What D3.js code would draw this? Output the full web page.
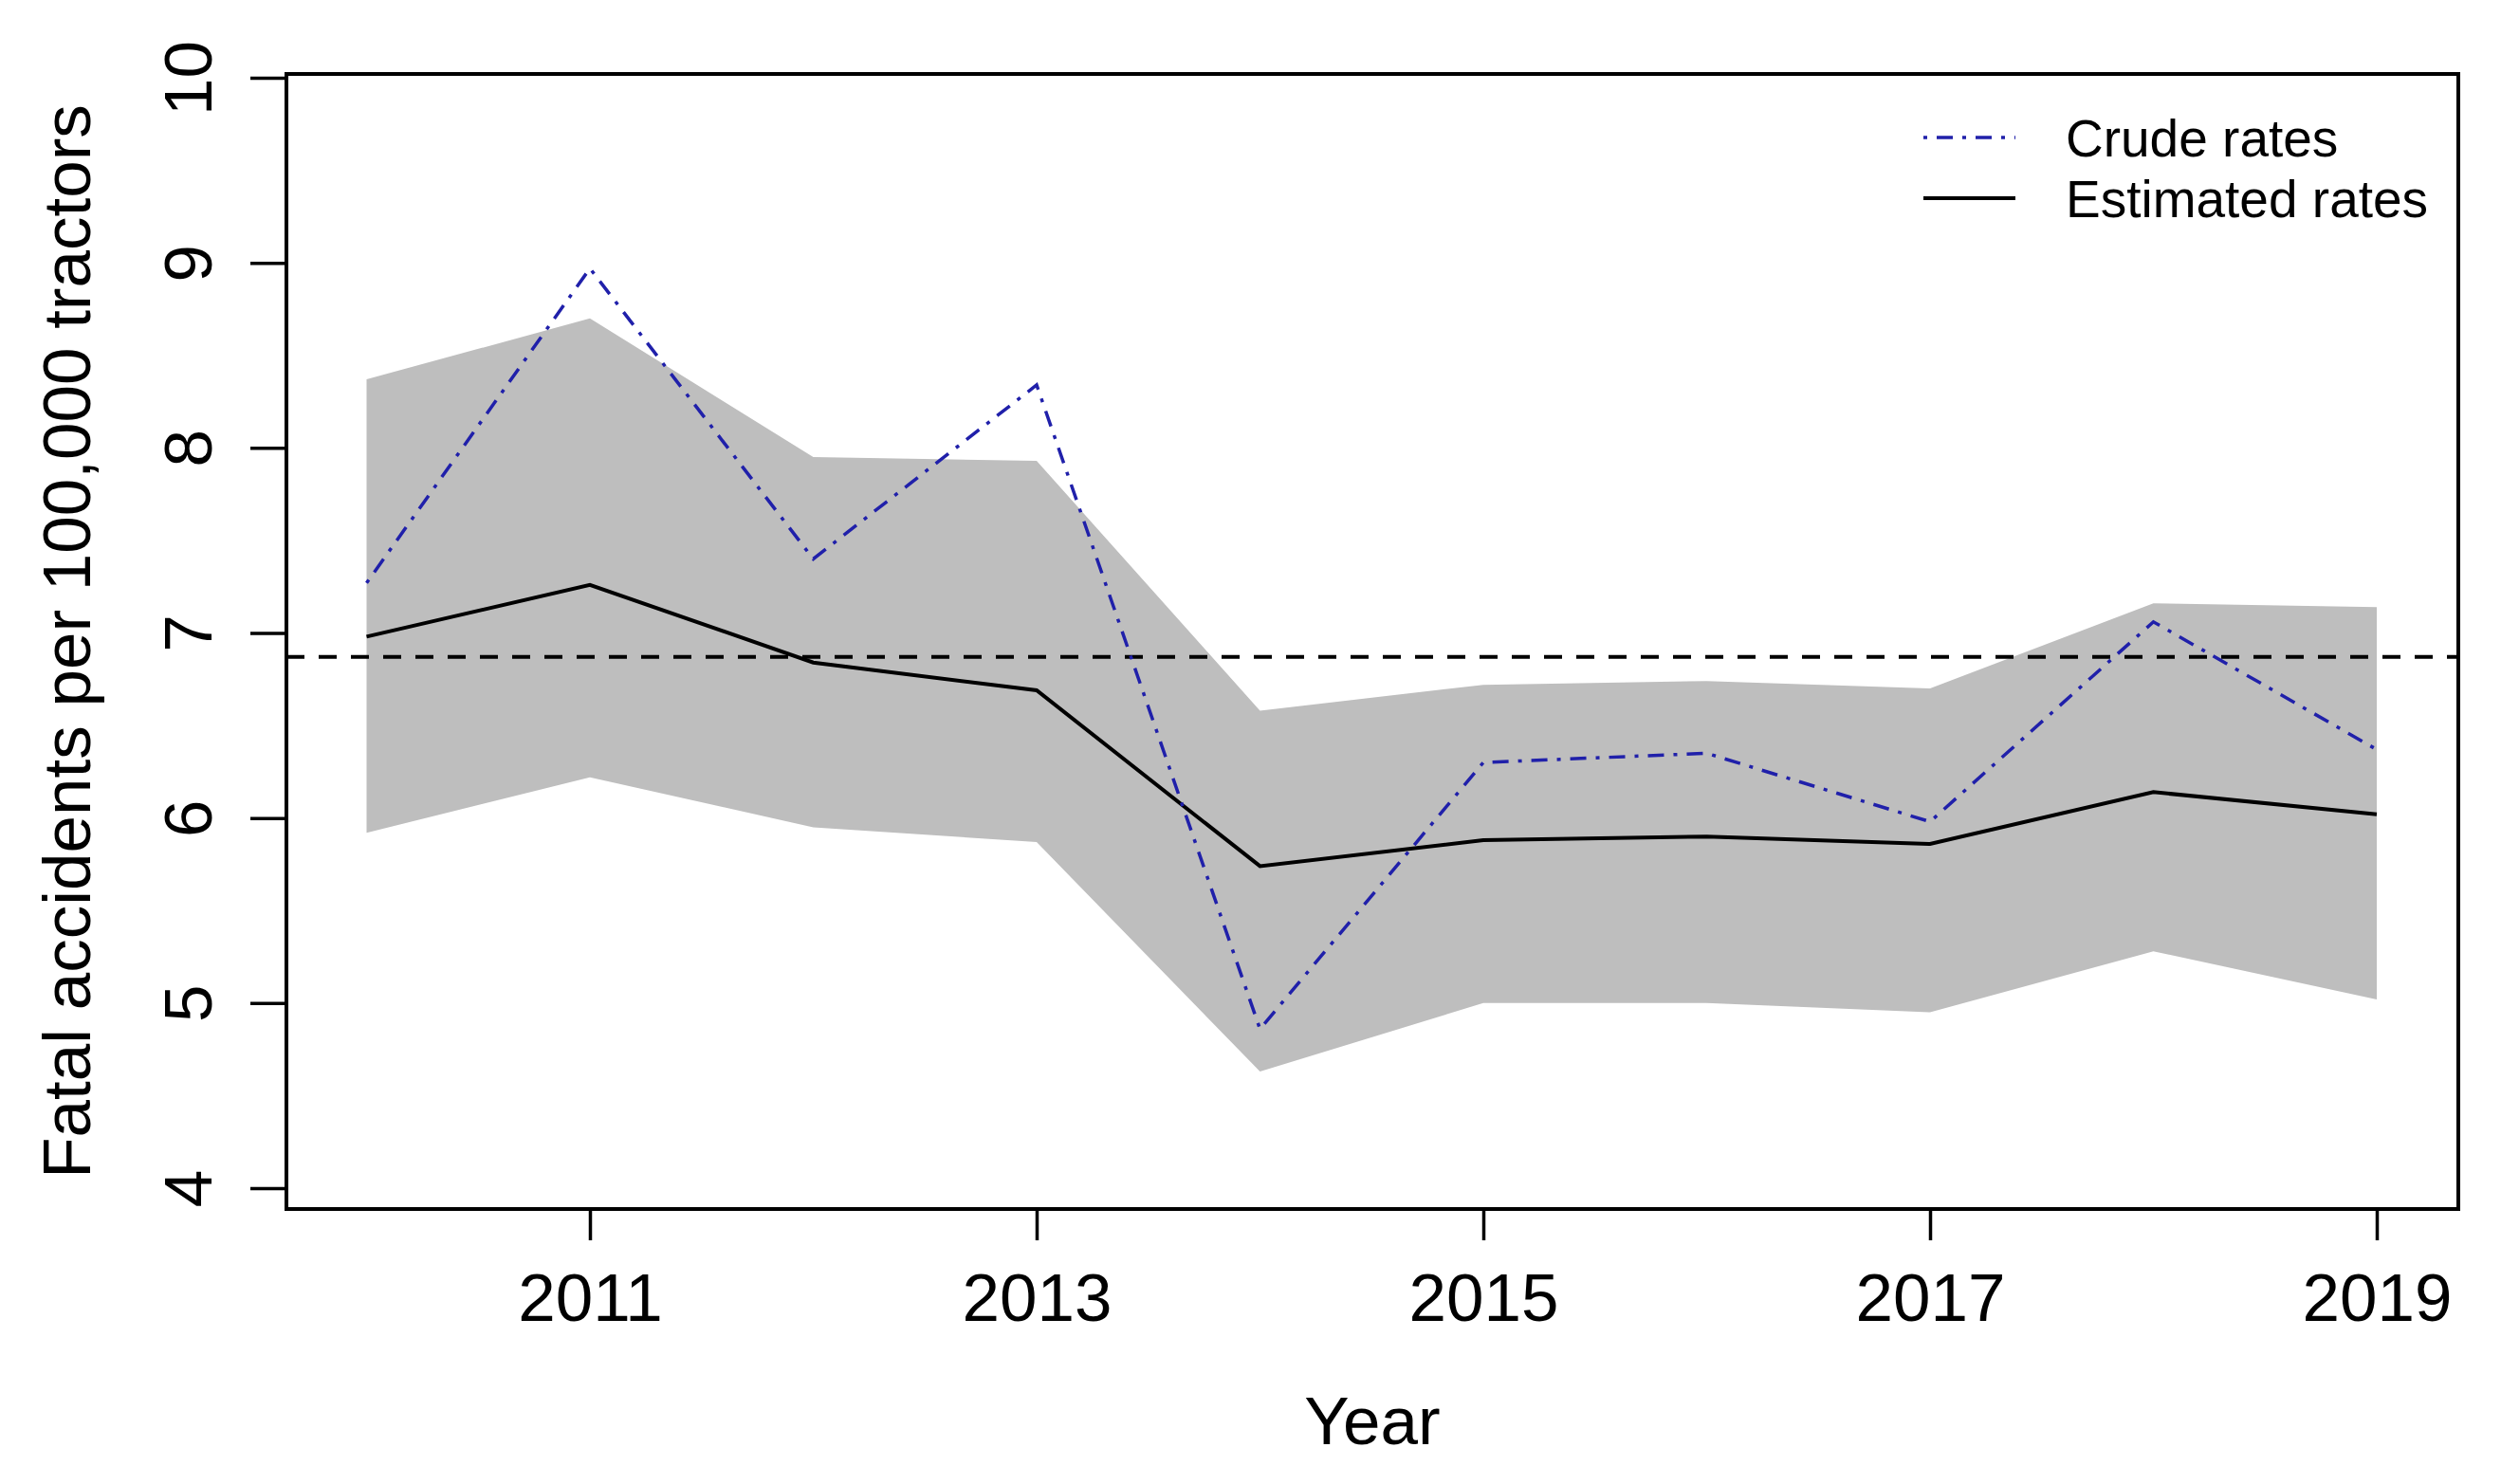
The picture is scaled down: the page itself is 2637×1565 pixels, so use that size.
<!DOCTYPE html>
<html>
<head>
<meta charset="utf-8">
<script src="https://cdn.jsdelivr.net/npm/d3@7"></script>
<style>
  body { margin: 0; background: #fff; }
  text { font-family: "Liberation Sans", Arial, sans-serif; fill: #000; }
</style>
</head>
<body>
<div id="chart"></div>
<script>
// values
var years = [2010, 2011, 2012, 2013, 2014, 2015, 2016, 2017, 2018, 2019];
var crude = [7.27, 8.97, 7.40, 8.34, 4.86, 6.30, 6.35, 5.98, 7.06, 6.37];
var estimated = [6.98, 7.26, 6.84, 6.69, 5.74, 5.88, 5.90, 5.86, 6.14, 6.02];
var upper = [8.37, 8.70, 7.95, 7.93, 6.58, 6.72, 6.74, 6.70, 7.16, 7.14];
var lower = [5.92, 6.22, 5.95, 5.87, 4.63, 5.00, 5.00, 4.95, 5.28, 5.02];
var overall = 6.87;
var xTicks = [2011, 2013, 2015, 2017, 2019];
var yTicks = [4, 5, 6, 7, 8, 9, 10];
var legendLabels = ["Crude rates", "Estimated rates"];

var width = 2637;
var height = 1565;

// plot box (R style, axes extended past the data)
var box = { left: 302, right: 2592, top: 78, bottom: 1275 };

var svg = d3.select("#chart")
            .append("svg")
            .attr("width", width)
            .attr("height", height);

svg.append("rect")
   .attr("width", width)
   .attr("height", height)
   .attr("fill", "#fff");

var x = d3.scaleLinear().domain([2011, 2019]).range([622, 2506]);
var y = d3.scaleLinear().domain([4, 10]).range([1253, 82]);

var rows = years.map(function(yr, i) {
  return { year: yr, crude: crude[i], est: estimated[i], lo: lower[i], hi: upper[i] };
});

// confidence band
var band = d3.area()
             .x(function(d) { return x(d.year); })
             .y0(function(d) { return y(d.lo); })
             .y1(function(d) { return y(d.hi); });

svg.append("path")
   .datum(rows)
   .attr("d", band)
   .attr("fill", "#bebebe");

// reference line
svg.append("line")
   .attr("x1", box.left)
   .attr("x2", box.right)
   .attr("y1", y(overall))
   .attr("y2", y(overall))
   .attr("stroke", "#000")
   .attr("stroke-width", 4)
   .attr("stroke-dasharray", "19,15");

var estLine = d3.line()
                .x(function(d) { return x(d.year); })
                .y(function(d) { return y(d.est); });

var crudeLine = d3.line()
                  .x(function(d) { return x(d.year); })
                  .y(function(d) { return y(d.crude); });

svg.append("path")
   .datum(rows)
   .attr("d", estLine)
   .attr("fill", "none")
   .attr("stroke", "#000")
   .attr("stroke-width", 4);

svg.append("path")
   .datum(rows)
   .attr("d", crudeLine)
   .attr("fill", "none")
   .attr("stroke", "#2020aa")
   .attr("stroke-width", 3.5)
   .attr("stroke-dasharray", "4,10,17,10");

// box
svg.append("rect")
   .attr("x", box.left)
   .attr("y", box.top)
   .attr("width", box.right - box.left)
   .attr("height", box.bottom - box.top)
   .attr("fill", "none")
   .attr("stroke", "#000")
   .attr("stroke-width", 4);

// axes
var xAxis = svg.append("g")
               .attr("transform", "translate(0," + box.bottom + ")")
               .call(d3.axisBottom(x).tickValues(xTicks).tickSize(33).tickFormat(d3.format("d")));

xAxis.select(".domain").remove();
xAxis.selectAll("line").attr("stroke", "#000").attr("stroke-width", 3.5);
xAxis.selectAll("text")
     .attr("y", 118)
     .attr("dy", null)
     .attr("font-size", 71)
     .attr("font-family", "Liberation Sans, Arial, sans-serif");

var yAxis = svg.append("g")
               .attr("transform", "translate(" + box.left + ",0)")
               .call(d3.axisLeft(y).tickValues(yTicks).tickSize(38).tickFormat(d3.format("d")));

yAxis.select(".domain").remove();
yAxis.selectAll("line").attr("stroke", "#000").attr("stroke-width", 3.5);
yAxis.selectAll("text")
     .attr("x", null)
     .attr("dy", null)
     .attr("transform", "translate(-79,0) rotate(-90)")
     .attr("text-anchor", "middle")
     .attr("font-size", 71)
     .attr("font-family", "Liberation Sans, Arial, sans-serif");

// axis titles
svg.append("text")
   .attr("x", (box.left + box.right) / 2)
   .attr("y", 1523)
   .attr("text-anchor", "middle")
   .attr("font-size", 71)
   .text("Year");

svg.append("text")
   .attr("transform", "translate(95," + (box.top + box.bottom) / 2 + ") rotate(-90)")
   .attr("text-anchor", "middle")
   .attr("font-size", 71)
   .text("Fatal accidents per 100,000 tractors");

// legend
var legend = svg.append("g");
var legendY = [145, 209];

legend.append("line")
      .attr("x1", 2028).attr("x2", 2125)
      .attr("y1", legendY[0]).attr("y2", legendY[0])
      .attr("stroke", "#2020aa")
      .attr("stroke-width", 3.5)
      .attr("stroke-dasharray", "4,10,17,10");

legend.append("line")
      .attr("x1", 2028).attr("x2", 2125)
      .attr("y1", legendY[1]).attr("y2", legendY[1])
      .attr("stroke", "#000")
      .attr("stroke-width", 4);

legend.selectAll("text.lab")
      .data(legendLabels)
      .enter()
      .append("text")
      .attr("class", "lab")
      .attr("x", 2178)
      .attr("y", function(d, i) { return legendY[i] + 20; })
      .attr("font-size", 55)
      .text(function(d) { return d; });
</script>
</body>
</html>
